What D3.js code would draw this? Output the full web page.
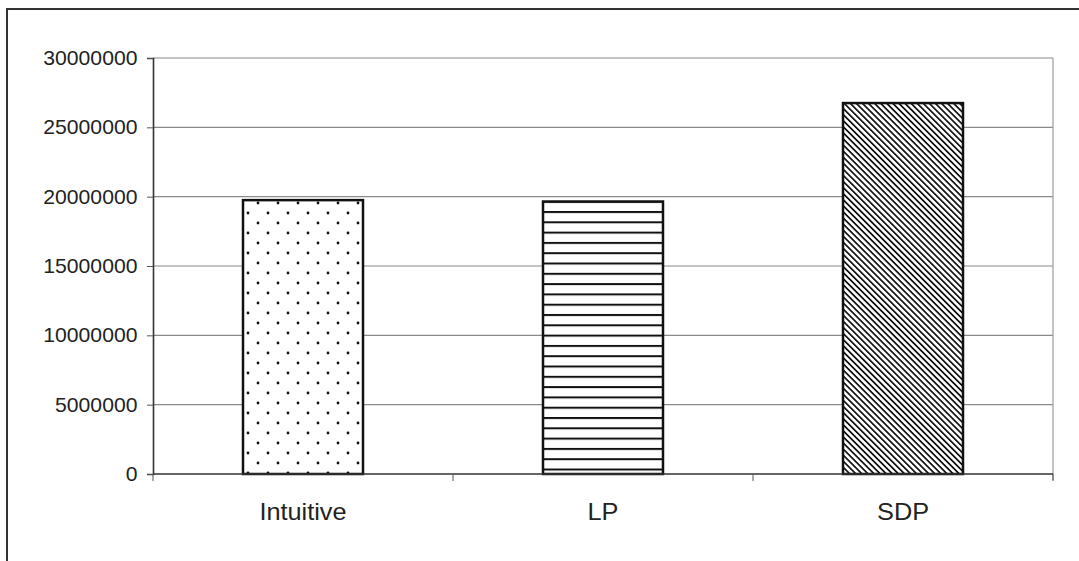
<!DOCTYPE html>
<html>
<head>
<meta charset="utf-8">
<script src="https://cdn.jsdelivr.net/npm/d3@7"></script>
<style>
  body { margin: 0; background: #fff; }
  text { font-family: "Liberation Sans", Arial, sans-serif; fill: #222; }
</style>
</head>
<body>
<div class="chart"></div>
<script>
(function chart() {

  'use strict';

  // data
  var categories = ['Intuitive', 'LP', 'SDP'];
  var values = [19750000, 19650000, 26750000];
  var patterns = ['dots', 'hlines', 'diag'];
  var yTicks = [0, 5000000, 10000000, 15000000, 20000000, 25000000, 30000000];

  var width = 1079;
  var height = 561;

  var margins = {
    top: 58,
    right: 26,
    bottom: 87,
    left: 153
  };

  var innerW = width - margins.left - margins.right;
  var innerH = height - margins.top - margins.bottom;

  var x = d3.scaleBand()
    .domain(categories)
    .range([0, innerW])
    .paddingInner(0.6)
    .paddingOuter(0.3);

  var y = d3.scaleLinear()
    .domain([0, 30000000])
    .range([innerH, 0]);

  var svg = d3.select('.chart').append('svg')
    .attr('width', width)
    .attr('height', height);

  // fill patterns
  var defs = svg.append('defs');

  var dots = defs.append('pattern')
    .attr('id', 'dots')
    .attr('patternUnits', 'userSpaceOnUse')
    .attr('width', 20)
    .attr('height', 20);
  dots.append('rect').attr('width', 20).attr('height', 20).attr('fill', '#fff');
  dots.append('circle').attr('cx', 5).attr('cy', 5).attr('r', 1.4).attr('fill', '#111');
  dots.append('circle').attr('cx', 15).attr('cy', 15).attr('r', 1.4).attr('fill', '#111');

  // start the stripes a little under the bar top, like the original
  var step = 10.3;
  var hlines = defs.append('pattern')
    .attr('id', 'hlines')
    .attr('patternUnits', 'userSpaceOnUse')
    .attr('y', y(values[1]) + 9.5)
    .attr('width', 20)
    .attr('height', step);
  hlines.append('rect').attr('width', 20).attr('height', step).attr('fill', '#fff');
  hlines.append('rect').attr('y', 0).attr('width', 20).attr('height', 2).attr('fill', '#111');

  var diag = defs.append('pattern')
    .attr('id', 'diag')
    .attr('patternUnits', 'userSpaceOnUse')
    .attr('width', 4.3)
    .attr('height', 4.3)
    .attr('patternTransform', 'rotate(-45)');
  diag.append('rect').attr('width', 4.3).attr('height', 4.3).attr('fill', '#fff');
  diag.append('rect').attr('x', 0).attr('width', 1.7).attr('height', 4.3).attr('fill', '#111');

  // outer frame (runs off the right and bottom edge)
  svg.append('rect')
    .attr('x', 7)
    .attr('y', 9)
    .attr('width', width)
    .attr('height', height)
    .attr('fill', 'none')
    .attr('stroke', '#333')
    .attr('stroke-width', 2);

  var g = svg.append('g')
    .attr('transform', 'translate(' + margins.left + ',' + margins.top + ')');

  // gridlines
  g.append('g')
    .selectAll('line')
    .data(yTicks.slice(1))
    .enter()
    .append('line')
      .attr('x1', 0)
      .attr('x2', innerW)
      .attr('y1', function (d) { return y(d); })
      .attr('y2', function (d) { return y(d); })
      .attr('stroke', '#8a8a8a')
      .attr('stroke-width', 1.2);

  // right edge of plot area
  g.append('line')
    .attr('x1', innerW)
    .attr('x2', innerW)
    .attr('y1', 0)
    .attr('y2', innerH + 6)
    .attr('stroke', '#9a9a9a')
    .attr('stroke-width', 1.2);

  // bars
  g.selectAll('.bar')
    .data(values)
    .enter()
    .append('rect')
      .attr('class', 'bar')
      .attr('x', function (d, i) { return x(categories[i]); })
      .attr('y', function (d) { return y(d); })
      .attr('width', x.bandwidth())
      .attr('height', function (d) { return innerH - y(d); })
      .attr('fill', function (d, i) { return 'url(#' + patterns[i] + ')'; })
      .attr('stroke', '#111')
      .attr('stroke-width', 2.5);

  // y axis
  var yAxis = g.append('g')
    .call(d3.axisLeft(y).tickValues(yTicks).tickFormat(d3.format('d')).tickSize(6).tickPadding(9));
  yAxis.select('.domain').attr('stroke', '#333').attr('stroke-width', 1.6);
  yAxis.selectAll('.tick line').attr('stroke', '#555');
  yAxis.selectAll('text')
    .style('font-size', '20px')
    .attr('fill', '#222')
    .attr('transform', 'scale(1.06,1)')
    .attr('x', -15.5 / 1.06);

  // x axis: ticks at category boundaries
  var bounds = [0, 1, 2, 3].map(function (i) { return i * innerW / 3; });
  var xAxisG = g.append('g').attr('transform', 'translate(0,' + innerH + ')');
  xAxisG.append('line')
    .attr('x1', 0)
    .attr('x2', innerW)
    .attr('stroke', '#333')
    .attr('stroke-width', 1.6);
  xAxisG.selectAll('.xtick')
    .data(bounds)
    .enter()
    .append('line')
      .attr('x1', function (d) { return d; })
      .attr('x2', function (d) { return d; })
      .attr('y1', 0)
      .attr('y2', 7)
      .attr('stroke', '#555');
  xAxisG.selectAll('.xlabel')
    .data(categories)
    .enter()
    .append('text')
      .attr('text-anchor', 'middle')
      .attr('transform', function (d) {
        return 'translate(' + (x(d) + x.bandwidth() / 2) + ',46) scale(1.1,1)';
      })
      .style('font-size', '23px')
      .text(function (d) { return d; });
})();
</script>
</body>
</html>
